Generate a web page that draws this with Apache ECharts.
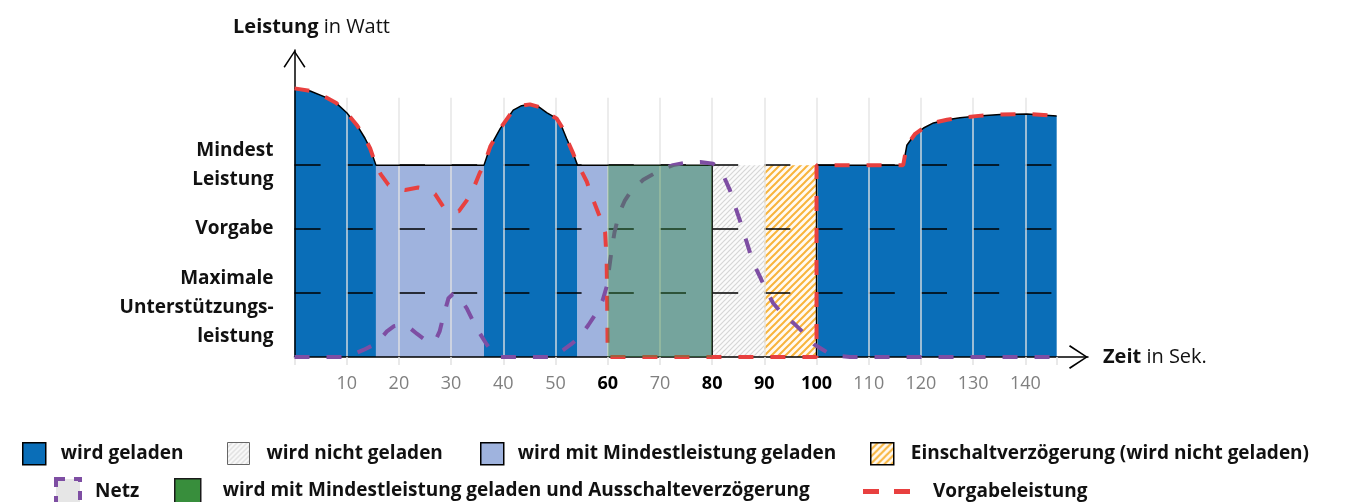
<!DOCTYPE html>
<html>
<head>
<meta charset="utf-8">
<script src="https://cdn.jsdelivr.net/npm/echarts@6/dist/echarts.min.js"></script>
<style>
html, body { margin: 0; padding: 0; background: #fff; }
#chart { width: 1352px; height: 502px; }
</style>
</head>
<body>
<div id="chart"></div>
<script>
// x: Zeit in Sek., y: Leistungsstufen (1 = max. Unterstützung, 2 = Vorgabe, 3 = Mindest)
var levelLabels = { 1: '\nMaximale\nUnterstützungs-\nleistung', 2: 'Vorgabe', 3: 'Mindest\nLeistung' }
var boldTicks = [60, 80, 90, 100]

// wird geladen (dunkelblau), drei Abschnitte
var geladenA = [[0, 4.2], [3, 4.16], [6, 4.06], [8, 3.97], [10, 3.82], [12, 3.62], [13.5, 3.42], [14.5, 3.26], [15.6, 3]]
var geladenB = [[36.3, 3], [37.5, 3.29], [39.4, 3.57], [41.9, 3.86], [43.5, 3.93], [45.1, 3.95], [46.8, 3.91], [48.3, 3.82], [50.2, 3.73], [51.2, 3.6], [52.1, 3.42], [53.4, 3.18], [54.2, 3]]
var geladenC = [[100, 3], [116.6, 3], [117.3, 3.31], [118.9, 3.49], [120.5, 3.58], [122.4, 3.66], [125, 3.71], [127.5, 3.74], [131, 3.77], [135.2, 3.79], [140.3, 3.8], [146, 3.77]]

// wird mit Mindestleistung geladen
var mindestA = [[15.6, 3], [36.3, 3]]
var mindestB = [[54.2, 3], [80, 3]]
// ... und Ausschalteverzögerung
var ausschalt = [[60, 3], [80, 3]]
// wird nicht geladen / Einschaltverzögerung
var nichtGeladen = [[80, 3], [90, 3]]
var einschalt = [[90, 3], [100, 3]]

// Vorgabeleistung (rot gestrichelt), Teile zwischen den Ladeabschnitten
var vorgabeDip = [[16.5, 2.86], [18, 2.69], [19.5, 2.63], [21.2, 2.61], [23.7, 2.65], [25.5, 2.62], [26.9, 2.55], [28.5, 2.35], [30, 2.27], [31.5, 2.28], [33, 2.45], [34.5, 2.68], [35.5, 2.88]]
var vorgabeDrop = [[55, 2.9], [56, 2.74], [57, 2.5], [58.2, 2.25], [59, 2.1], [59.5, 1.95], [59.8, 1.5], [59.9, 0.8], [60, 0], [100, 0]]

// Netz (lila gestrichelt)
var netz = [[0, 0], [10, 0], [13.2, 0.11], [15.7, 0.21], [17.7, 0.4], [19, 0.48], [20.5, 0.5], [22, 0.46], [23.5, 0.36], [25, 0.27], [26, 0.24], [27, 0.26], [27.8, 0.4], [28.5, 0.63], [29.5, 0.92], [30.3, 0.98], [31.1, 0.97], [32, 0.88], [33, 0.76], [34.2, 0.56], [35.5, 0.37], [36.8, 0.2], [38.1, 0.06], [39.4, 0], [49.6, 0], [51.5, 0.11], [53, 0.2], [54.7, 0.32], [56.3, 0.5], [57.9, 0.7], [59, 0.88], [59.8, 1.1], [60.3, 1.4], [60.8, 1.7], [61.3, 1.95], [62.2, 2.25], [63.3, 2.45], [64.6, 2.61], [66.8, 2.77], [70, 2.92], [72.5, 3.0], [75.1, 3.04], [77.7, 3.05], [80.2, 3.02], [81.2, 2.95], [82.1, 2.85], [83.4, 2.61], [84.3, 2.38], [85.3, 2.14], [86.3, 1.88], [87.3, 1.62], [88.2, 1.42], [89.2, 1.25], [90.5, 1.02], [91.7, 0.84], [93.5, 0.67], [95.6, 0.53], [97, 0.42], [98.1, 0.32], [99.5, 0.2], [101.3, 0.11], [102.5, 0.05], [103.9, 0.02], [106.4, 0], [146, 0]]

var GAP = null
var vorgabe = geladenA.concat(vorgabeDip, geladenB, vorgabeDrop, geladenC)
var outline = geladenA.concat(geladenB, [[80, 3], [80, 0], [90, GAP], [100, 0]], geladenC)

var FONT = 'Open Sans'
var ARROW = 'path://M12,0 L24,18 L22.6,19 L12,2.6 L1.4,19 L0,18 Z'

function hatch(bg, stroke, size, width) {
  var c = document.createElement('canvas')
  c.width = size
  c.height = size
  var ctx = c.getContext('2d')
  ctx.fillStyle = bg
  ctx.fillRect(0, 0, size, size)
  ctx.strokeStyle = stroke
  ctx.lineWidth = width
  ctx.beginPath()
  ctx.moveTo(0, size); ctx.lineTo(size, 0)
  ctx.moveTo(-size / 2, size / 2); ctx.lineTo(size / 2, -size / 2)
  ctx.moveTo(size / 2, size * 1.5); ctx.lineTo(size * 1.5, size / 2)
  ctx.stroke()
  return { image: c, repeat: 'repeat' }
}

var grayHatch = hatch('#fbfbfb', '#d6d6d6', 5, 1.2)
var orangeHatch = hatch('#fffaf2', '#f8b43c', 7, 2)

function gapJoin(a, b) {
  return a.concat([[(a[a.length - 1][0] + b[0][0]) / 2, GAP]], b)
}

function fillSeries(name, data, color, z, opacity) {
  return {
    name: name,
    type: 'line',
    data: data,
    showSymbol: false,
    symbol: 'none',
    z: z,
    itemStyle: { color: color },
    lineStyle: { width: 0 },
    areaStyle: { color: color, opacity: opacity == null ? 1 : opacity }
  }
}

function legendItem(left, top, w, h, gap, item) {
  return {
    left: left,
    top: top,
    padding: 0,
    itemGap: 0,
    itemWidth: w,
    itemHeight: h,
    selectedMode: false,
    textStyle: { fontFamily: FONT, fontSize: 19, fontWeight: 'bold', color: '#111', padding: [0, 0, 0, gap] },
    data: [item]
  }
}

var chartDom = echarts.init(document.getElementById('chart'))

var option = {
  animation: false,
  backgroundColor: '#fff',
  grid: [
    // Achsen mit Pfeilen
    { left: 294.5, right: 264, top: 50, bottom: 145 },
    // senkrechte Hilfslinien
    { left: 294.5, right: 295.4, top: 97.8, bottom: 145 },
    // waagerechte Strichlinien
    { left: 294.5, right: 295.4, top: 133, bottom: 145 }
  ],
  xAxis: [{
    gridIndex: 0,
    type: 'value',
    min: 0,
    max: 152,
    interval: 10,
    z: 2,
    axisLine: {
      show: true,
      lineStyle: { color: '#000', width: 1.5 },
      symbol: ['none', ARROW],
      symbolSize: [24, 19],
      symbolOffset: [0, -9.5]
    },
    axisTick: { show: false },
    splitLine: { show: false },
    axisLabel: {
      margin: 18,
      fontFamily: FONT,
      fontSize: 18,
      color: '#808080',
      formatter: function (v) {
        if (v === 0 || v > 140) return ''
        return boldTicks.indexOf(v) >= 0 ? '{b|' + v + '}' : String(v)
      },
      rich: { b: { fontFamily: FONT, fontSize: 18, fontWeight: 'bold', color: '#000' } }
    },
    name: '{b|Zeit} in Sek.',
    nameLocation: 'end',
    nameGap: 15,
    nameTextStyle: {
      fontFamily: FONT, fontSize: 20, color: '#111', verticalAlign: 'middle',
      rich: { b: { fontFamily: FONT, fontSize: 20, fontWeight: 'bold', color: '#111' } }
    }
  }, {
    gridIndex: 1,
    type: 'value',
    min: 0,
    max: 146,
    interval: 10,
    z: 2,
    axisLine: { show: false },
    axisLabel: { show: false },
    axisTick: { show: true, length: 8, lineStyle: { color: '#e2e2e2', width: 1.5 } },
    splitLine: { show: true, showMinLine: false, showMaxLine: false, lineStyle: { color: 'rgba(226,226,226,0.9)', width: 1.5 } }
  }, {
    gridIndex: 2,
    type: 'value',
    min: 0,
    max: 146,
    show: false
  }],
  yAxis: [{
    gridIndex: 0,
    type: 'value',
    min: 0,
    max: 4.8,
    interval: 1,
    z: 2,
    axisLine: {
      show: true,
      lineStyle: { color: '#000', width: 1.5 },
      symbol: ['none', ARROW],
      symbolSize: [22, 18],
      symbolOffset: [0, -9]
    },
    axisTick: { show: false },
    splitLine: { show: false },
    axisLabel: {
      margin: 21,
      fontFamily: FONT,
      fontSize: 19,
      fontWeight: 'bold',
      lineHeight: 29,
      color: '#111',
      align: 'right',
      formatter: function (v) { return levelLabels[v] || '' }
    },
    name: '{b|Leistung} in Watt',
    nameLocation: 'end',
    nameGap: 13,
    nameTextStyle: {
      fontFamily: FONT, fontSize: 20, color: '#111', padding: [0, 0, 0, 34],
      rich: { b: { fontFamily: FONT, fontSize: 20, fontWeight: 'bold', color: '#111' } }
    }
  }, {
    gridIndex: 1,
    type: 'value',
    min: 0,
    max: 4.05,
    show: false
  }, {
    gridIndex: 2,
    type: 'value',
    min: 0,
    max: 3.5,
    interval: 1,
    z: 2,
    axisLine: { show: false },
    axisLabel: { show: false },
    axisTick: { show: false },
    splitLine: { show: true, showMinLine: false, showMaxLine: false, lineStyle: { color: '#000', width: 1.5, type: [26.1, 26.1] } }
  }],
  legend: [
    legendItem(22, 442, 23, 22, 10, { name: 'wird geladen', icon: 'rect', itemStyle: { color: '#0a6eb8', borderColor: '#000', borderWidth: 1.5 } }),
    legendItem(227, 442, 22, 22, 12, { name: 'wird nicht geladen', icon: 'rect', itemStyle: { color: grayHatch, borderColor: '#666', borderWidth: 1 } }),
    legendItem(480, 442, 23, 22, 9, { name: 'wird mit Mindestleistung geladen', icon: 'rect', itemStyle: { color: '#9fb3de', borderColor: '#000', borderWidth: 1.5 } }),
    legendItem(870, 442, 23, 22, 12, { name: 'Einschaltverzögerung (wird nicht geladen)', icon: 'rect', itemStyle: { color: orangeHatch, borderColor: '#000', borderWidth: 1.5 } }),
    legendItem(54, 477, 24, 25, 10, { name: 'Netz', icon: 'rect', itemStyle: { color: '#e6e6e6', borderColor: '#7e4ea3', borderWidth: 4, borderType: [9, 9] } }),
    legendItem(174, 478, 26, 24, 17, { name: 'wird mit Mindestleistung geladen und Ausschalteverzögerung', icon: 'rect', itemStyle: { color: '#388e3c', borderColor: '#1a1a1a', borderWidth: 1.5 } }),
    legendItem(863, 482, 47, 24, 18, { name: 'Vorgabeleistung', icon: 'path://M0,0H16V5H0Z M31,0H47V5H31Z', itemStyle: { color: '#e8403f' } })
  ],
  series: [
    fillSeries('wird geladen', gapJoin(gapJoin(geladenA, geladenB), geladenC), '#0a6eb8', 1),
    fillSeries('wird mit Mindestleistung geladen', gapJoin(mindestA, mindestB), '#9fb3de', 1),
    fillSeries('wird nicht geladen', nichtGeladen, grayHatch, 1),
    fillSeries('Einschaltverzögerung (wird nicht geladen)', einschalt, orangeHatch, 1),
    {
      name: 'Umriss',
      type: 'line',
      data: outline,
      symbol: 'none',
      z: 3,
      lineStyle: { color: '#000', width: 1.5 }
    },
    {
      name: 'Netz',
      type: 'line',
      data: netz,
      symbol: 'none',
      z: 4,
      itemStyle: { color: '#7e4ea3' },
      lineStyle: { color: '#7e4ea3', width: 4, type: [15, 17] }
    },
    {
      name: 'Vorgabeleistung',
      type: 'line',
      data: vorgabe,
      symbol: 'none',
      z: 4,
      itemStyle: { color: '#e8403f' },
      lineStyle: { color: '#e8403f', width: 4, type: [15, 17] }
    },
    fillSeries('wird mit Mindestleistung geladen und Ausschalteverzögerung', ausschalt, '#388e3c', 5, 0.4)
  ]
}

chartDom.setOption(option)
</script>
</body>
</html>
